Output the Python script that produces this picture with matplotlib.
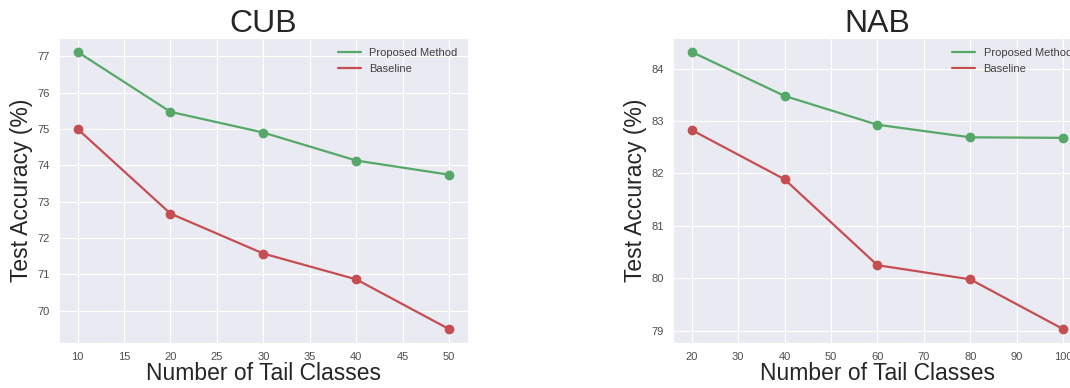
import matplotlib
matplotlib.use("Agg")
import matplotlib.pyplot as plt
import seaborn as sns

# data
cub_tail = [10, 20, 30, 40, 50]
cub_proposed = [77.12, 75.47, 74.90, 74.13, 73.74]
cub_baseline = [75.00, 72.67, 71.57, 70.86, 69.49]

nab_tail = [20, 40, 60, 80, 100]
nab_proposed = [84.32, 83.48, 82.93, 82.69, 82.68]
nab_baseline = [82.83, 81.89, 80.25, 79.98, 79.03]

GREEN = "#55A868"
RED = "#C44E52"

sns.set_style("darkgrid")
plt.rcParams["font.family"] = ["Liberation Sans", "DejaVu Sans"]

fig = plt.figure(figsize=(10.7, 3.88), dpi=100)
ax1 = fig.add_axes([0.0551, 0.116, 0.382, 0.786])
ax2 = fig.add_axes([0.629, 0.116, 0.382, 0.786])


def panel(ax, x, prop, base, title):
    ax.plot(x, prop, color=GREEN, lw=1.6, label="Proposed Method")
    ax.plot(x, base, color=RED, lw=1.6, label="Baseline")
    ax.plot(x, prop, "o", color=GREEN, ms=6)
    ax.plot(x, base, "o", color=RED, ms=6)
    ax.set_title(title, fontsize=23, color=".15", pad=4)
    ax.set_xlabel("Number of Tail Classes", fontsize=16.5, color=".15", labelpad=0)
    ax.set_ylabel("Test Accuracy (%)", fontsize=16.5, color=".15", labelpad=3)
    ax.tick_params(labelsize=8, colors=".3", length=0, pad=6.5)
    leg = ax.legend(loc="upper right", fontsize=8, frameon=False)
    for t in leg.get_texts():
        t.set_color(".25")


panel(ax1, cub_tail, cub_proposed, cub_baseline, "CUB")
panel(ax2, nab_tail, nab_proposed, nab_baseline, "NAB")

fig.savefig("out.png", dpi=100)
